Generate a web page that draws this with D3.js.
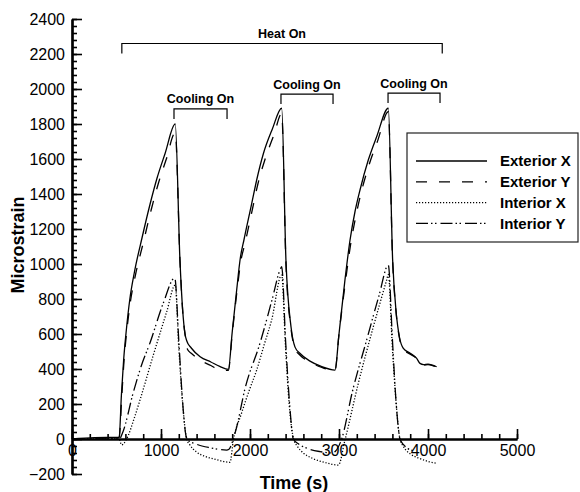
<!DOCTYPE html>
<html>
<head>
<meta charset="utf-8">
<script src="https://cdn.jsdelivr.net/npm/d3@7"></script>
<style>
  body { margin: 0; background: #fff; }
  svg { display: block; font-family: "Liberation Sans", Arial, Helvetica, sans-serif; }
</style>
</head>
<body>
<div id="chart"></div>
<script>
// values: [time (s), microstrain]
var exteriorX = [[0,0],[250,8],[530,10],[555,250],[580,450],[610,620],[650,800],[700,950],[787,1150],[876,1340],[955,1490],[1045,1630],[1160,1800],
  [1213,1020],[1243,740],[1270,600],[1290,560],[1340,520],[1440,470],[1560,440],[1660,415],[1757,398],
  [1800,610],[1850,850],[1890,1030],[1933,1140],[2019,1345],[2075,1480],[2150,1630],[2250,1770],[2356,1890],
  [2404,1020],[2461,640],[2506,525],[2560,490],[2674,445],[2800,415],[2955,394],
  [3000,600],[3067,909],[3124,1137],[3180,1300],[3236,1423],[3329,1594],[3423,1727],[3554,1890],
  [3603,1020],[3640,737],[3680,580],[3723,518],[3800,490],[3873,461],[3910,432],[3950,425],[4000,428],[4097,413]];

var exteriorY = [[0,0],[250,5],[530,8],[560,250],[585,450],[616,620],[658,790],[710,930],[800,1120],[890,1310],[970,1460],[1060,1600],[1160,1750],
  [1215,1000],[1245,720],[1275,580],[1300,510],[1340,490],[1440,450],[1560,420],[1663,394],[1757,392],
  [1800,600],[1855,850],[1895,1010],[1945,1120],[2030,1320],[2090,1460],[2170,1600],[2270,1740],[2356,1860],
  [2404,1000],[2461,630],[2506,515],[2560,480],[2674,440],[2800,410],[2955,390],
  [3000,600],[3070,890],[3130,1110],[3190,1275],[3245,1400],[3340,1570],[3435,1705],[3554,1870],
  [3603,1010],[3640,730],[3680,575],[3723,512],[3800,485],[3873,458],[3910,430],[3950,422],[4000,425],[4097,410]];

var interiorX = [[0,0],[530,0],[558,-34],[614,0],[700,120],[764,223],[914,480],[1064,727],[1160,880],
  [1200,520],[1243,206],[1288,0],[1320,-30],[1400,-75],[1500,-100],[1600,-115],[1775,-133],
  [1813,-6],[1900,140],[2000,290],[2075,394],[2160,540],[2243,680],[2356,937],
  [2400,520],[2440,200],[2490,0],[2530,-40],[2600,-80],[2700,-110],[2850,-135],[2993,-149],
  [3067,-6],[3217,318],[3386,642],[3536,909],[3554,940],
  [3600,520],[3640,220],[3685,0],[3720,-40],[3800,-85],[3900,-110],[4000,-128],[4097,-139]];

var interiorY = [[0,0],[530,0],[573,42],[687,263],[780,420],[876,549],[1026,777],[1155,920],
  [1200,560],[1243,210],[1280,20],[1300,-5],[1400,-30],[1550,-50],[1738,-63],
  [1760,-60],[1831,32],[1950,300],[2112,547],[2250,800],[2337,966],[2356,985],
  [2400,560],[2445,200],[2487,0],[2550,-30],[2650,-55],[2787,-72],[2930,-80],
  [2960,-70],[3030,0],[3150,270],[3311,566],[3450,820],[3554,994],
  [3600,570],[3640,220],[3685,0],[3730,-35],[3775,-55],[3850,-68]];

var seriesNames = ["Exterior X", "Exterior Y", "Interior X", "Interior Y"];
var seriesData = [exteriorX, exteriorY, interiorX, interiorY];
var seriesDash = [null, "11,12", "1.2,1.8", "12,3,1.5,2.5,1.5,4"];

// brackets: label, start, end, level
var brackets = [
  ["Heat On", 560, 4160, 2260],
  ["Cooling On", 1146, 1742, 1886],
  ["Cooling On", 2348, 2933, 1971],
  ["Cooling On", 3551, 4135, 1977]
];

var w = 580, h = 492;

var svg = d3.select("#chart").append("svg")
  .attr("width", w)
  .attr("height", h);

var x = d3.scaleLinear().domain([0, 5000]).range([72, 517]);
var y = d3.scaleLinear().domain([-200, 2400]).range([474, 19]);

// y axis, ticks pointing inward
var yMinor = d3.axisLeft(y).tickValues(d3.range(-200, 2401, 40)).tickSize(-5).tickSizeOuter(0).tickFormat("");
var yMajor = d3.axisLeft(y).tickValues(d3.range(-200, 2401, 200)).tickSize(-10).tickSizeOuter(0).tickPadding(7).tickFormat(d3.format("d"));

svg.append("g").attr("transform", "translate(72,0)").call(yMinor);
var gY = svg.append("g").attr("transform", "translate(72,0)").call(yMajor);

var xMinor = d3.axisBottom(x).tickValues(d3.range(0, 5001, 200)).tickSize(-5).tickSizeOuter(0).tickFormat("");
var xMajor = d3.axisBottom(x).tickValues(d3.range(0, 5001, 1000)).tickSize(-10).tickSizeOuter(0).tickPadding(6).tickFormat(d3.format("d"));

svg.append("g").attr("transform", "translate(0," + y(0) + ")").call(xMinor);
var gX = svg.append("g").attr("transform", "translate(0," + y(0) + ")").call(xMajor);

svg.selectAll(".domain").attr("stroke", "#000").attr("stroke-width", 2.2);
svg.selectAll(".tick line").attr("stroke", "#000").attr("stroke-width", 1.6);
svg.selectAll(".tick text").attr("fill", "#000").style("font-size", "16px").style("font-family", "'Liberation Sans', Arial, sans-serif");

// axis titles
svg.append("text")
  .attr("transform", "translate(24,245) rotate(-90)")
  .attr("text-anchor", "middle")
  .style("font-size", "18px").style("font-weight", "bold")
  .text("Microstrain");

svg.append("text")
  .attr("x", 294).attr("y", 489)
  .attr("text-anchor", "middle")
  .style("font-size", "18px").style("font-weight", "bold")
  .text("Time (s)");

// curves
var line = d3.line()
  .x(function(d) { return x(d[0]); })
  .y(function(d) { return y(d[1]); })
  .curve(d3.curveMonotoneX);

seriesData.forEach(function(s, i) {
  svg.append("path")
    .datum(s)
    .attr("d", line)
    .attr("fill", "none")
    .attr("stroke", "#000")
    .attr("stroke-width", 1.3)
    .attr("stroke-dasharray", seriesDash[i]);
});

// heat / cooling brackets
brackets.forEach(function(b) {
  var x0 = x(b[1]), x1 = x(b[2]), yy = y(b[3]);
  svg.append("path")
    .attr("d", "M" + x0 + "," + (yy + 10) + "V" + yy + "H" + x1 + "V" + (yy + 10))
    .attr("fill", "none")
    .attr("stroke", "#000")
    .attr("stroke-width", 1.2);
  svg.append("text")
    .attr("x", (x0 + x1) / 2).attr("y", yy - 5.5)
    .attr("text-anchor", "middle")
    .style("font-size", "12.5px").style("font-weight", "bold")
    .text(b[0]);
});

// legend
var legend = svg.append("g");
legend.append("rect")
  .attr("x", 407).attr("y", 133)
  .attr("width", 171).attr("height", 109)
  .attr("fill", "#fff")
  .attr("stroke", "#222")
  .attr("stroke-width", 1.2);

seriesNames.forEach(function(name, i) {
  var ly = 161 + i * 20.8;
  legend.append("line")
    .attr("x1", 416).attr("x2", 487)
    .attr("y1", ly).attr("y2", ly)
    .attr("stroke", "#000")
    .attr("stroke-width", 1.3)
    .attr("stroke-dasharray", seriesDash[i]);
  legend.append("text")
    .attr("x", 500).attr("y", ly + 5.4)
    .style("font-size", "15px").style("font-weight", "bold")
    .text(name);
});
</script>
</body>
</html>
